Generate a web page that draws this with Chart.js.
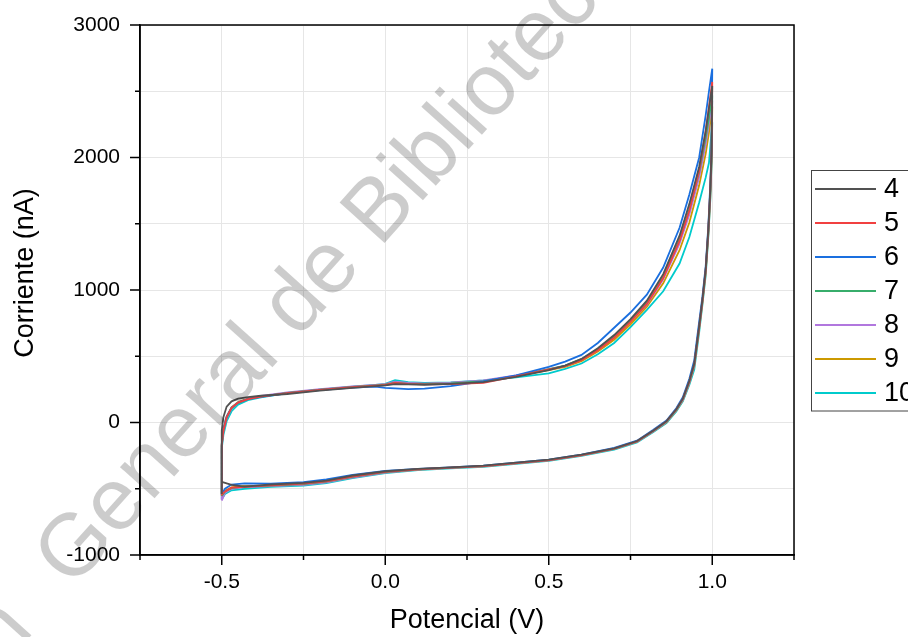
<!DOCTYPE html>
<html>
<head>
<meta charset="utf-8">
<title>Voltamperometria ciclica</title>
<script src="https://cdn.jsdelivr.net/npm/chart.js@4.4.1/dist/chart.umd.min.js"></script>
<style>
  body { margin: 0; background: #fff; }
  canvas { display: block; }
</style>
</head>
<body>
<canvas id="cvChart" width="908" height="637"></canvas>
<script>
'use strict';

// DATA - POTENTIAL PATH (FORWARD -0.5 TO 1.0, THEN BACK)
var potencial = [
  -0.5, -0.5, -0.495, -0.485, -0.47, -0.45, -0.42, -0.38,
  -0.3, -0.2, -0.1, -0.03, 0.0, 0.03, 0.07, 0.12, 0.2, 0.3, 0.4, 0.5,
  0.55, 0.6, 0.65, 0.7, 0.75, 0.8, 0.85, 0.9, 0.93, 0.96, 0.98, 0.99, 1.0,
  0.998, 0.994, 0.988, 0.98, 0.97, 0.96, 0.945, 0.93, 0.91, 0.89, 0.86, 0.82, 0.77,
  0.7, 0.6, 0.5, 0.4, 0.3, 0.2, 0.1, 0.0, -0.1, -0.18, -0.25, -0.35, -0.43, -0.47, -0.49, -0.5
];

// CURRENT (nA) FOR EACH CYCLE
var ciclo4 = [
  -540, -60, 40, 120, 160, 180, 192, 202,
  215, 240, 262, 275, 280, 290, 288, 285, 292, 305, 345, 395,
  430, 480, 560, 660, 780, 920, 1120, 1410, 1650, 1930, 2200, 2370, 2540,
  2050, 1760, 1460, 1160, 930, 730, 445, 315, 180, 100, 10, -60, -140,
  -195, -243, -280, -303, -326, -338, -350, -368, -400, -438, -455, -468, -484, -470, -455, -448
];
var ciclo5 = [
  -550, -170, -60, 40, 110, 150, 177, 195,
  222, 246, 266, 278, 283, 298, 292, 288, 290, 300, 348, 400,
  425, 470, 545, 640, 760, 895, 1090, 1370, 1600, 1900, 2200, 2380, 2570,
  2050, 1760, 1450, 1150, 920, 720, 440, 310, 178, 98, 8, -62, -142,
  -197, -246, -284, -306, -329, -341, -353, -373, -408, -444, -462, -474, -485, -492, -520, -545
];
var ciclo6 = [
  -545, -160, -50, 45, 112, 150, 176, 194,
  220, 245, 264, 270, 262, 258, 252, 255, 275, 310, 355, 420,
  460, 510, 600, 715, 830, 965, 1170, 1470, 1720, 2000, 2320, 2500, 2670,
  2100, 1800, 1480, 1180, 950, 760, 470, 330, 190, 108, 15, -55, -137,
  -192, -243, -281, -303, -326, -338, -350, -365, -395, -430, -450, -462, -460, -468, -500, -540
];
var ciclo7 = [
  -555, -175, -65, 35, 108, 148, 176, 196,
  224, 248, 268, 280, 285, 300, 292, 290, 296, 312, 350, 402,
  430, 478, 555, 650, 770, 905, 1100, 1380, 1610, 1890, 2150, 2300, 2468,
  2020, 1740, 1440, 1150, 920, 720, 440, 310, 176, 96, 6, -63, -143,
  -198, -246, -284, -306, -329, -341, -353, -374, -410, -446, -464, -476, -482, -495, -520, -555
];
var ciclo8 = [
  -585, -180, -70, 30, 105, 148, 178, 200,
  228, 252, 272, 284, 290, 308, 298, 294, 300, 318, 356, 400,
  428, 475, 548, 645, 765, 890, 1080, 1350, 1570, 1850, 2100, 2260, 2430,
  2000, 1720, 1430, 1140, 910, 710, 430, 300, 170, 92, 3, -66, -145,
  -200, -248, -286, -308, -331, -343, -356, -378, -415, -452, -470, -480, -488, -500, -530, -590
];
var ciclo9 = [
  -540, -165, -55, 45, 115, 155, 180, 197,
  222, 247, 268, 280, 288, 305, 296, 292, 298, 312, 350, 395,
  420, 462, 535, 625, 740, 875, 1050, 1300, 1510, 1790, 2030, 2190, 2385,
  1980, 1700, 1420, 1130, 905, 705, 425, 298, 168, 90, 2, -66, -145,
  -200, -248, -286, -308, -331, -343, -355, -376, -412, -448, -466, -476, -478, -490, -515, -540
];
var ciclo10 = [
  -580, -195, -95, 10, 85, 135, 168, 190,
  222, 248, 270, 283, 292, 320, 305, 298, 302, 318, 340, 370,
  405, 445, 515, 600, 720, 850, 990, 1200, 1400, 1660, 1850, 1960, 2267,
  1960, 1680, 1400, 1110, 890, 680, 400, 285, 160, 84, -4, -72, -150,
  -205, -252, -290, -312, -334, -346, -359, -382, -420, -458, -476, -486, -500, -512, -540, -580
];

var etiquetas = ['4', '5', '6', '7', '8', '9', '10'];
var colores = ['#515151', '#F14040', '#1A6FDF', '#37AD6B', '#B177DE', '#CC9900', '#00CBCC'];
var ciclos = [ciclo4, ciclo5, ciclo6, ciclo7, ciclo8, ciclo9, ciclo10];

// TICK LABELS
var xTicks = [-0.5, 0.0, 0.5, 1.0];
var yTicks = [-1000, 0, 1000, 2000, 3000];

var FUENTE = "'Liberation Sans', Arial, sans-serif";
Chart.defaults.font.family = FUENTE;
Chart.defaults.color = '#000';

function isLabel(list, v) {
  for (var i = 0; i < list.length; i++) {
    if (Math.abs(list[i] - v) < 1e-6) return true;
  }
  return false;
}

//BUILD DATASETS
var datasets = [];
for (var i = 0; i < ciclos.length; i++) {
  var serie = ciclos[i];
  datasets.push({
    label: etiquetas[i],
    data: potencial.map(function (v, j) { return { x: v, y: serie[j] }; }),
    borderColor: colores[i],
    backgroundColor: colores[i],
    borderWidth: 1.8,
    pointRadius: 0,
    showLine: true,
    fill: false,
    tension: 0
  });
}

// FRAME + MINOR/MAJOR TICK MARKS + Y TITLE
var framePlugin = {
  id: 'frame',
  afterDraw: function (chart) {
    var ctx = chart.ctx;
    var area = chart.chartArea;
    var xs = chart.scales.x;
    var ys = chart.scales.y;
    ctx.save();
    ctx.strokeStyle = '#000';
    ctx.lineWidth = 1.5;
    ctx.strokeRect(area.left, area.top, area.right - area.left, area.bottom - area.top);
    ctx.beginPath();
    xs.ticks.forEach(function (t) {
      var px = xs.getPixelForValue(t.value);
      var len = isLabel(xTicks, t.value) ? 10 : 5;
      ctx.moveTo(px, area.bottom);
      ctx.lineTo(px, area.bottom + len);
    });
    ys.ticks.forEach(function (t) {
      var py = ys.getPixelForValue(t.value);
      var len = isLabel(yTicks, t.value) ? 10 : 5;
      ctx.moveTo(area.left, py);
      ctx.lineTo(area.left - len, py);
    });
    ctx.stroke();

    // y axis title (sits a bit above the centre, like the original)
    ctx.translate(26, 273);
    ctx.rotate(-Math.PI / 2);
    ctx.font = '27px ' + FUENTE;
    ctx.fillStyle = '#000';
    ctx.textAlign = 'center';
    ctx.textBaseline = 'middle';
    ctx.fillText('Corriente (nA)', 0, 0);
    ctx.restore();
  }
};

// LEGEND BOX ON THE RIGHT
var legendPlugin = {
  id: 'cajaLeyenda',
  afterDraw: function (chart) {
    var ctx = chart.ctx;
    var left = 811.5, top = 170.5;
    ctx.save();
    ctx.strokeStyle = '#444';
    ctx.lineWidth = 1;
    ctx.strokeRect(left, top, 140, 240.5);
    ctx.font = '27px ' + FUENTE;
    ctx.textBaseline = 'middle';
    ctx.textAlign = 'left';
    chart.data.datasets.forEach(function (ds, k) {
      var y = 189 + k * 34;
      ctx.strokeStyle = ds.borderColor;
      ctx.lineWidth = 2;
      ctx.beginPath();
      ctx.moveTo(815, y);
      ctx.lineTo(876, y);
      ctx.stroke();
      ctx.fillStyle = '#000';
      ctx.fillText(ds.label, 884, y + 1);
    });
    ctx.restore();
  }
};

// WATERMARK TEXT
var marcaPlugin = {
  id: 'marca',
  afterDraw: function (chart) {
    var ctx = chart.ctx;
    ctx.save();
    ctx.font = '88px ' + FUENTE;
    ctx.fillStyle = 'rgba(0,0,0,0.2)';
    ctx.textBaseline = 'alphabetic';
    ctx.translate(72, 590);
    ctx.rotate(-48 * Math.PI / 180);
    ctx.textAlign = 'left';
    ctx.fillText('General de Bibliotecas', 0, 0);
    ctx.textAlign = 'right';
    ctx.fillText('Dirección', -55, 0);
    ctx.restore();
  }
};

var ctx = document.getElementById('cvChart');
var cvChart = new Chart(ctx, {
  type: 'scatter',
  data: { datasets: datasets },
  options: {
    responsive: false,
    animation: false,
    layout: { padding: { top: 25, right: 114, left: 0, bottom: 0 } },
    plugins: {
      legend: { display: false },
      tooltip: { enabled: false }
    },
    scales: {
      x: {
        type: 'linear',
        min: -0.75,
        max: 1.25,
        afterFit: function (s) {
          s.height = 82;
          s.paddingLeft = 0;
          s.paddingRight = 0;
        },
        ticks: {
          stepSize: 0.25,
          autoSkip: false,
          maxRotation: 0,
          padding: 15,
          font: { size: 21 },
          color: '#000',
          callback: function (v) { return isLabel(xTicks, v) ? v.toFixed(1) : ''; }
        },
        grid: { color: '#e6e6e6', lineWidth: 1, drawTicks: false },
        border: { color: '#000', width: 1.5 },
        title: {
          display: true,
          text: 'Potencial (V)',
          font: { size: 27 },
          color: '#000',
          padding: { top: 0, bottom: 0 }
        }
      },
      y: {
        type: 'linear',
        min: -1000,
        max: 3000,
        afterFit: function (s) {
          s.width = 140;
          s.paddingTop = 0;
          s.paddingBottom = 0;
        },
        ticks: {
          stepSize: 500,
          autoSkip: false,
          padding: 20,
          font: { size: 21 },
          color: '#000',
          callback: function (v) { return isLabel(yTicks, v) ? String(v) : ''; }
        },
        grid: { color: '#e6e6e6', lineWidth: 1, drawTicks: false },
        border: { color: '#000', width: 1.5 }
      }
    }
  },
  plugins: [framePlugin, legendPlugin, marcaPlugin]
});
</script>
</body>
</html>
